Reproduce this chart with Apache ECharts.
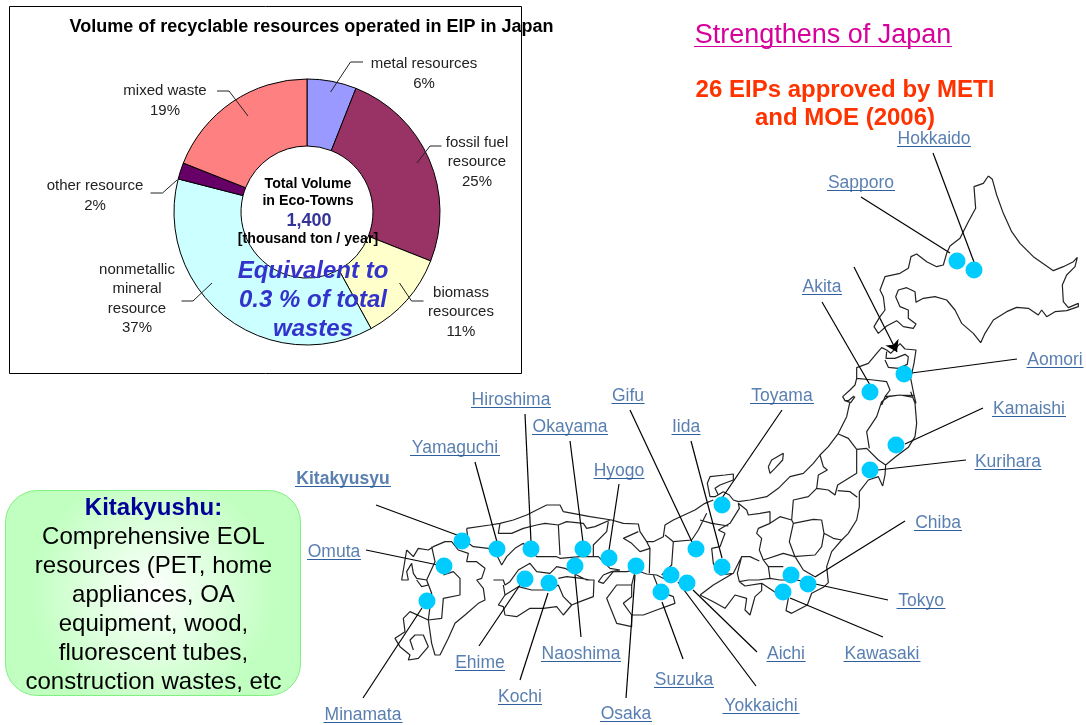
<!DOCTYPE html>
<html>
<head>
<meta charset="utf-8">
<title>Strengths of Japan</title>
<script src="https://cdn.jsdelivr.net/npm/echarts@6/dist/echarts.min.js"></script>
<style>
  html, body { margin: 0; padding: 0; background: #fff; }
  #main { width: 1086px; height: 725px; }
</style>
</head>
<body>
<div id="main"></div>
<script>
// donut
const resourceNames = ['metal resources', 'fossil fuel\nresource', 'biomass\nresources', 'nonmetallic\nmineral\nresource', 'other resource', 'mixed waste']
const resourceShares = [6, 25, 11, 37, 2, 19]
const resourceColors = ['#9999ff', '#993366', '#ffffcc', '#ccffff', '#660066', '#ff8080']
const resourceLabelX = [424, 477, 461, 137, 95, 165]
const resourceLabelY = [74, 162, 312, 299, 196, 101]
const resourceLeaders = [
  [[363, 62], [350.5, 62], [330.6, 92]],
  [[441.5, 146], [430, 146], [417, 163]],
  [[423.5, 301], [411.5, 301], [399.5, 283]],
  [[181.5, 301], [193, 301], [212, 283]],
  [[150.5, 193], [162.5, 193], [177, 180]],
  [[217, 91], [229, 91], [248, 116]]
]

// map sites
const cityNames = ['Hokkaido', 'Sapporo', 'Akita', 'Aomori', 'Kamaishi', 'Kurihara', 'Chiba', 'Tokyo', 'Kawasaki', 'Aichi', 'Yokkaichi', 'Suzuka', 'Osaka', 'Naoshima', 'Kochi', 'Ehime', 'Minamata', 'Omuta', 'Kitakyusyu', 'Yamaguchi', 'Hiroshima', 'Okayama', 'Hyogo', 'Gifu', 'Iida', 'Toyama']
const cityX = [974, 957, 870, 904, 896, 870, 808, 791, 783, 671, 687, 661, 636, 575, 549, 525, 427, 444, 462, 497, 531, 583, 609, 696, 722, 722]
const cityY = [270, 261, 392, 374, 445, 470, 584, 575, 592, 575, 583, 592, 566, 566, 583, 579, 601, 566, 541, 549, 549, 549, 558, 549, 567, 505]
const cityLabelX = [934, 861, 822, 1055, 1029, 1008, 938, 921, 882, 786, 761, 684, 626, 581, 520, 480, 363, 334, 343, 455, 511, 570, 619, 628, 686, 782]
const cityLabelY = [138, 182, 286, 359, 408, 461, 522, 600, 653, 653, 705, 679, 713, 653, 696, 662, 714, 551, 478, 447, 399, 426, 470, 395, 426, 395]
const cityLabelW = [74, 68, 40, 57, 74, 67, 48, 49, 77, 39, 77, 60, 52, 80, 44, 50, 79, 54, 96, 90, 80, 76, 51, 33, 29, 64]
const cityLeaderX = [933, 861, 822, 1017, 983, 966, 905, 888, 883, 757, 756, 683, 626, 581, 520, 479, 363, 366, 376, 475, 525, 570, 619, 630, 691, 782]
const cityLeaderY = [153, 197, 302, 359, 408, 460, 521, 600, 637, 652, 686, 659, 698, 637, 680, 646, 698, 550, 505, 462, 414, 441, 484, 410, 441, 410]
const cityLeaderEndX = [974, 950, 870, 904, 905, 878, 815, 797, 790, 693, 678, 662, 635, 575, 548, 520, 422, 438, 457, 497, 531, 583, 609, 692, 722, 722]
const cityLeaderEndY = [262, 253, 385, 374, 444, 470, 577, 580, 598, 590, 582, 602, 575, 575, 593, 585, 608, 565, 535, 542, 542, 542, 550, 542, 558, 498]

// at 3x, each block has its own origin
const hokkaidoTrace = [[625, 168], [637, 178], [650, 225], [670, 280], [695, 335], [720, 370], [760, 410], [820, 452], [850, 440], [880, 425], [892, 412], [885, 440], [860, 465], [847, 495], [850, 545], [865, 563], [895, 550], [895, 560], [860, 572], [825, 575], [800, 590], [785, 570], [775, 585], [745, 565], [710, 562], [680, 575], [640, 600], [615, 640], [602, 668], [580, 640], [545, 610], [525, 570], [500, 540], [465, 530], [430, 535], [408, 547], [405, 515], [380, 503], [355, 510], [347, 530], [360, 560], [385, 570], [385, 595], [408, 612], [400, 625], [370, 620], [350, 602], [320, 618], [295, 640], [282, 620], [300, 590], [315, 570], [310, 530], [300, 510], [315, 470], [360, 460], [385, 445], [393, 410], [410, 402], [440, 425], [470, 440], [490, 435], [500, 400], [510, 378], [540, 355], [565, 305], [587, 265], [582, 200], [610, 190], [625, 168]]
const northTipTrace = [
  [[50, 130], [50, 98], [85, 85], [110, 55], [125, 38], [140, 45], [152, 55], [165, 42], [180, 26], [195, 42], [228, 45], [222, 85], [212, 130], [222, 180], [228, 205]],
  [[140, 50], [138, 70], [165, 70], [195, 58], [205, 65], [202, 88], [175, 100], [145, 97], [135, 75]],
  [[50, 130], [100, 135], [140, 140], [150, 165], [135, 185], [125, 210]],
  [[50, 130], [45, 150], [30, 165], [8, 185], [15, 197], [32, 203], [45, 185]],
  [[135, 185], [180, 180], [222, 182]]
]
const tohokuTrace = [
  [[632, 95], [645, 130], [650, 190], [645, 230], [625, 262], [585, 292], [557, 315], [555, 345], [548, 378], [535, 350], [505, 360], [478, 395], [478, 440], [470, 480], [445, 520], [425, 540], [395, 575], [380, 620], [385, 668], [370, 682], [335, 700], [322, 735], [275, 760], [258, 752], [265, 715], [230, 700], [185, 670], [185, 692], [165, 710], [150, 765], [135, 750], [140, 715], [105, 705], [75, 745], [40, 725], [0, 705]],
  [[450, 125], [440, 170], [415, 220], [385, 260], [360, 285], [340, 310], [310, 340], [270, 350], [235, 385], [200, 410], [150, 420], [115, 425], [100, 420], [88, 405], [70, 395], [45, 410], [30, 410], [22, 370], [30, 350], [75, 345], [100, 342], [100, 360], [60, 375], [45, 385], [55, 405]],
  [[430, 118], [445, 122], [462, 108]],
  [[415, 222], [445, 235], [470, 268], [500, 265], [535, 300], [557, 315]],
  [[640, 112], [600, 105], [565, 110], [545, 125], [530, 170], [500, 215], [508, 265]],
  [[360, 285], [370, 320], [382, 330], [355, 345], [350, 385], [385, 390], [405, 405], [413, 375], [470, 340], [470, 270]],
  [[350, 385], [325, 410], [280, 420], [275, 480], [280, 490], [340, 478], [365, 480], [372, 520], [400, 535], [425, 540]],
  [[413, 392], [450, 395], [472, 412]],
  [[280, 490], [268, 545], [285, 590], [310, 630], [345, 650]],
  [[280, 590], [345, 585], [365, 560], [372, 520]],
  [[275, 480], [240, 470], [210, 490], [175, 505], [170, 520], [185, 535], [178, 570], [190, 600], [205, 620], [250, 620]],
  [[210, 490], [210, 455], [180, 460], [145, 465], [140, 450], [115, 430], [118, 445], [90, 490], [55, 510], [75, 520], [60, 560], [35, 565], [40, 610], [60, 645], [100, 640], [125, 590], [150, 590], [178, 603]],
  [[190, 600], [250, 580], [285, 590]],
  [[205, 620], [210, 655], [175, 660], [145, 660], [118, 665], [112, 640], [125, 590]],
  [[210, 655], [240, 660], [290, 660]],
  [[118, 665], [135, 678], [185, 670]],
  [[100, 640], [40, 675], [0, 705]],
  [[0, 480], [35, 490], [85, 498]],
  [[205, 320], [215, 300], [250, 280], [248, 300], [225, 325], [210, 340], [205, 320]]
]
const westTrace = [
  [[230, 85], [300, 75], [330, 70], [370, 60], [410, 45], [470, 15], [510, 15], [520, 35], [600, 50], [665, 60], [700, 70], [745, 72], [750, 95], [770, 125], [790, 125], [820, 110], [825, 75], [850, 60], [915, 30], [945, 10], [970, 0]],
  [[230, 85], [235, 130], [250, 140], [295, 145], [320, 165], [335, 195], [350, 170], [375, 145], [400, 130], [440, 170], [500, 170], [510, 175], [570, 170], [625, 170], [660, 205], [690, 210], [665, 215], [640, 225], [625, 245], [640, 250], [670, 215], [710, 215], [735, 210], [770, 222], [800, 225], [830, 240]],
  [[735, 215], [725, 255], [680, 255], [650, 295], [660, 320], [680, 370], [725, 380], [725, 345], [760, 345], [800, 330], [855, 310], [850, 290], [810, 275], [790, 225]],
  [[725, 345], [700, 310], [725, 290], [725, 255]],
  [[330, 70], [325, 100], [365, 100], [400, 85], [440, 75], [465, 70], [505, 75], [510, 165]],
  [[505, 75], [530, 65], [580, 70], [590, 85], [615, 80], [660, 60]],
  [[655, 65], [650, 95], [610, 135], [610, 168]],
  [[745, 95], [700, 115], [725, 130], [750, 155], [780, 145], [770, 125]],
  [[780, 145], [778, 220]],
  [[825, 105], [850, 125], [905, 120], [925, 90], [950, 40]],
  [[850, 125], [845, 195], [815, 225]],
  // Shikoku
  [[310, 240], [340, 240], [345, 255], [360, 245], [385, 210], [420, 190], [440, 215], [480, 220], [500, 200], [525, 205], [560, 225], [590, 240], [612, 240], [610, 290], [570, 305], [545, 315], [520, 345], [500, 320], [460, 325], [420, 325], [380, 350], [345, 345], [340, 320], [325, 315], [345, 285], [340, 255]],
  [[345, 285], [385, 260], [425, 270], [475, 270], [505, 255], [520, 290], [545, 315]],
  [[505, 235], [530, 230], [575, 235], [600, 240]],
  // Kyushu
  [[50, 150], [70, 170], [85, 145], [115, 150], [130, 140], [165, 125], [185, 125], [205, 150], [235, 160], [230, 185], [260, 185], [285, 205], [275, 235], [260, 240], [280, 265], [285, 300], [265, 310], [225, 345], [195, 370], [175, 415], [150, 465], [135, 465], [125, 430], [115, 360], [155, 355], [160, 295], [210, 285], [210, 235], [190, 215], [160, 225]],
  [[50, 150], [45, 180], [35, 240], [55, 240], [50, 215], [65, 190], [70, 220], [80, 235], [110, 240], [115, 255], [95, 260], [80, 240]],
  [[125, 140], [135, 185], [110, 240], [125, 280], [115, 360], [60, 335], [40, 355], [45, 395], [15, 415], [30, 440], [60, 465], [55, 480], [85, 475], [115, 440], [100, 405], [75, 405], [60, 420], [70, 450]]
]

// turn traced blocks into one [x, y] list with gaps, so it draws as a single line series
function tracedLines(originX, originY, lines) {
  const out = []
  lines.forEach(line => {
    line.forEach(p => out.push([originX + p[0] / 3, originY + p[1] / 3]))
    out.push(null)
  })
  return out
}

const mapOutline = [
  ...tracedLines(780, 120, [hokkaidoTrace]),
  ...tracedLines(840, 335, northTipTrace),
  ...tracedLines(700, 360, tohokuTrace),
  ...tracedLines(390, 500, westTrace)
]

const sites = cityNames.map((name, i) => ({ name, value: [cityX[i], cityY[i]] }))
const siteLabels = cityNames.map((name, i) => ({
  name,
  value: [cityLabelX[i], cityLabelY[i]],
  label: { fontWeight: name === 'Kitakyusyu' ? 'bold' : 'normal' }
}))
const underlines = cityNames.map((name, i) => ({
  coords: [[cityLabelX[i] - cityLabelW[i] / 2, cityLabelY[i] + 8], [cityLabelX[i] + cityLabelW[i] / 2, cityLabelY[i] + 8]]
}))
const siteLeaders = cityNames.map((name, i) => ({
  coords: [[cityLeaderX[i], cityLeaderY[i]], [cityLeaderEndX[i], cityLeaderEndY[i]]]
}))
const donutLeaders = resourceLeaders.map(coords => ({ coords }))

const font = '"Liberation Sans", Arial, sans-serif'

function centerText(x, y, text, size, color, extra) {
  return {
    type: 'text',
    x,
    y,
    z: 20,
    style: Object.assign({
      text,
      fontFamily: font,
      fontSize: size,
      fill: color,
      align: 'center',
      verticalAlign: 'middle'
    }, extra || {})
  }
}

const chart = echarts.init(document.getElementById('main'))

chart.setOption({
  animation: false,
  backgroundColor: '#fff',
  textStyle: { fontFamily: font },
  grid: { left: 0, right: 0, top: 0, bottom: 0 },
  xAxis: { type: 'value', min: 0, max: 1086, show: false },
  yAxis: { type: 'value', min: 0, max: 725, inverse: true, show: false },
  graphic: [
    { type: 'rect', z: -1, shape: { x: 9.5, y: 6.5, width: 512, height: 367 }, style: { fill: '#fff', stroke: '#000', lineWidth: 1 } },
    {
      type: 'rect',
      z: -1,
      shape: { x: 5.5, y: 490.5, width: 295, height: 205, r: 32 },
      style: {
        stroke: '#80f080',
        lineWidth: 1,
        fill: {
          type: 'radial',
          x: 0.5,
          y: 0.5,
          r: 0.6,
          colorStops: [{ offset: 0, color: '#ffffff' }, { offset: 1, color: '#c0ffc0' }]
        }
      }
    },
    centerText(311.5, 27, 'Volume of recyclable resources operated in EIP in Japan', 18, '#000', { fontWeight: 'bold' }),
    centerText(308, 184, 'Total Volume', 14.2, '#000', { fontWeight: 'bold' }),
    centerText(308, 201, 'in Eco-Towns', 14.2, '#000', { fontWeight: 'bold' }),
    centerText(309, 221, '1,400', 18, '#333399', { fontWeight: 'bold' }),
    centerText(308, 239, '[thousand ton / year]', 14.2, '#000', { fontWeight: 'bold' }),
    centerText(313, 271, 'Equivalent to', 24, '#3333cc', { fontWeight: 'bold', fontStyle: 'italic' }),
    centerText(313, 300, '0.3 % of total', 24, '#3333cc', { fontWeight: 'bold', fontStyle: 'italic' }),
    centerText(313, 329, 'wastes', 24, '#3333cc', { fontWeight: 'bold', fontStyle: 'italic' }),
    centerText(823, 36, 'Strengthens of Japan', 27, '#d6009c'),
    { type: 'line', z: 20, shape: { x1: 694, y1: 46.5, x2: 952, y2: 46.5 }, style: { stroke: '#d6009c', lineWidth: 1 } },
    centerText(845, 90, '26 EIPs approved by METI', 24, '#ff3300', { fontWeight: 'bold' }),
    centerText(845, 118, 'and MOE (2006)', 24, '#ff3300', { fontWeight: 'bold' }),
    centerText(153.5, 508, 'Kitakyushu:', 24, '#000099', { fontWeight: 'bold' }),
    centerText(153.5, 537, 'Comprehensive EOL', 24, '#000'),
    centerText(153.5, 566, 'resources (PET, home', 24, '#000'),
    centerText(153.5, 595, 'appliances, OA', 24, '#000'),
    centerText(153.5, 624, 'equipment, wood,', 24, '#000'),
    centerText(153.5, 653, 'fluorescent tubes,', 24, '#000'),
    centerText(153.5, 682, 'construction wastes, etc', 24, '#000')
  ],
  series: [
    {
      type: 'pie',
      z: 2,
      center: [307, 212],
      radius: [66, 133],
      startAngle: 90,
      clockwise: true,
      silent: true,
      itemStyle: { borderColor: '#000', borderWidth: 1 },
      label: {
        show: true,
        color: '#222',
        fontSize: 15,
        lineHeight: 19.5,
        align: 'center',
        formatter: '{b}\n{c}%'
      },
      labelLine: { show: false },
      labelLayout(params) {
        return {
          x: resourceLabelX[params.dataIndex],
          y: resourceLabelY[params.dataIndex],
          align: 'center',
          verticalAlign: 'middle'
        }
      },
      data: resourceNames.map((name, i) => ({
        name,
        value: resourceShares[i],
        itemStyle: { color: resourceColors[i] }
      }))
    },
    {
      type: 'lines',
      z: 3,
      coordinateSystem: 'cartesian2d',
      polyline: true,
      silent: true,
      lineStyle: { color: '#222', width: 1, opacity: 1, curveness: 0 },
      data: donutLeaders
    },
    {
      type: 'line',
      z: 3,
      silent: true,
      symbol: 'none',
      connectNulls: false,
      lineStyle: { color: '#222', width: 1.2 },
      data: mapOutline
    },
    {
      type: 'lines',
      z: 4,
      coordinateSystem: 'cartesian2d',
      silent: true,
      lineStyle: { color: '#000', width: 1.2, opacity: 1, curveness: 0 },
      data: siteLeaders
    },
    {
      // the arrow off Hokkaido has no site of its own
      type: 'lines',
      z: 4,
      coordinateSystem: 'cartesian2d',
      silent: true,
      symbol: ['none', 'arrow'],
      symbolSize: 11,
      lineStyle: { color: '#000', width: 1.2, opacity: 1, curveness: 0 },
      data: [{ coords: [[854, 267], [897, 352]] }]
    },
    {
      type: 'lines',
      z: 4,
      coordinateSystem: 'cartesian2d',
      silent: true,
      lineStyle: { color: '#2f5f9e', width: 1, opacity: 1, curveness: 0 },
      data: underlines
    },
    {
      type: 'scatter',
      z: 5,
      silent: true,
      symbolSize: 17,
      itemStyle: { color: '#00ccff', opacity: 1 },
      data: sites
    },
    {
      type: 'scatter',
      z: 6,
      silent: true,
      symbolSize: 0,
      label: {
        show: true,
        position: 'inside',
        offset: [0, 1],
        color: '#2f5f9e',
        fontSize: 17.5,
        formatter: '{b}'
      },
      data: siteLabels
    }
  ]
})
</script>
</body>
</html>
